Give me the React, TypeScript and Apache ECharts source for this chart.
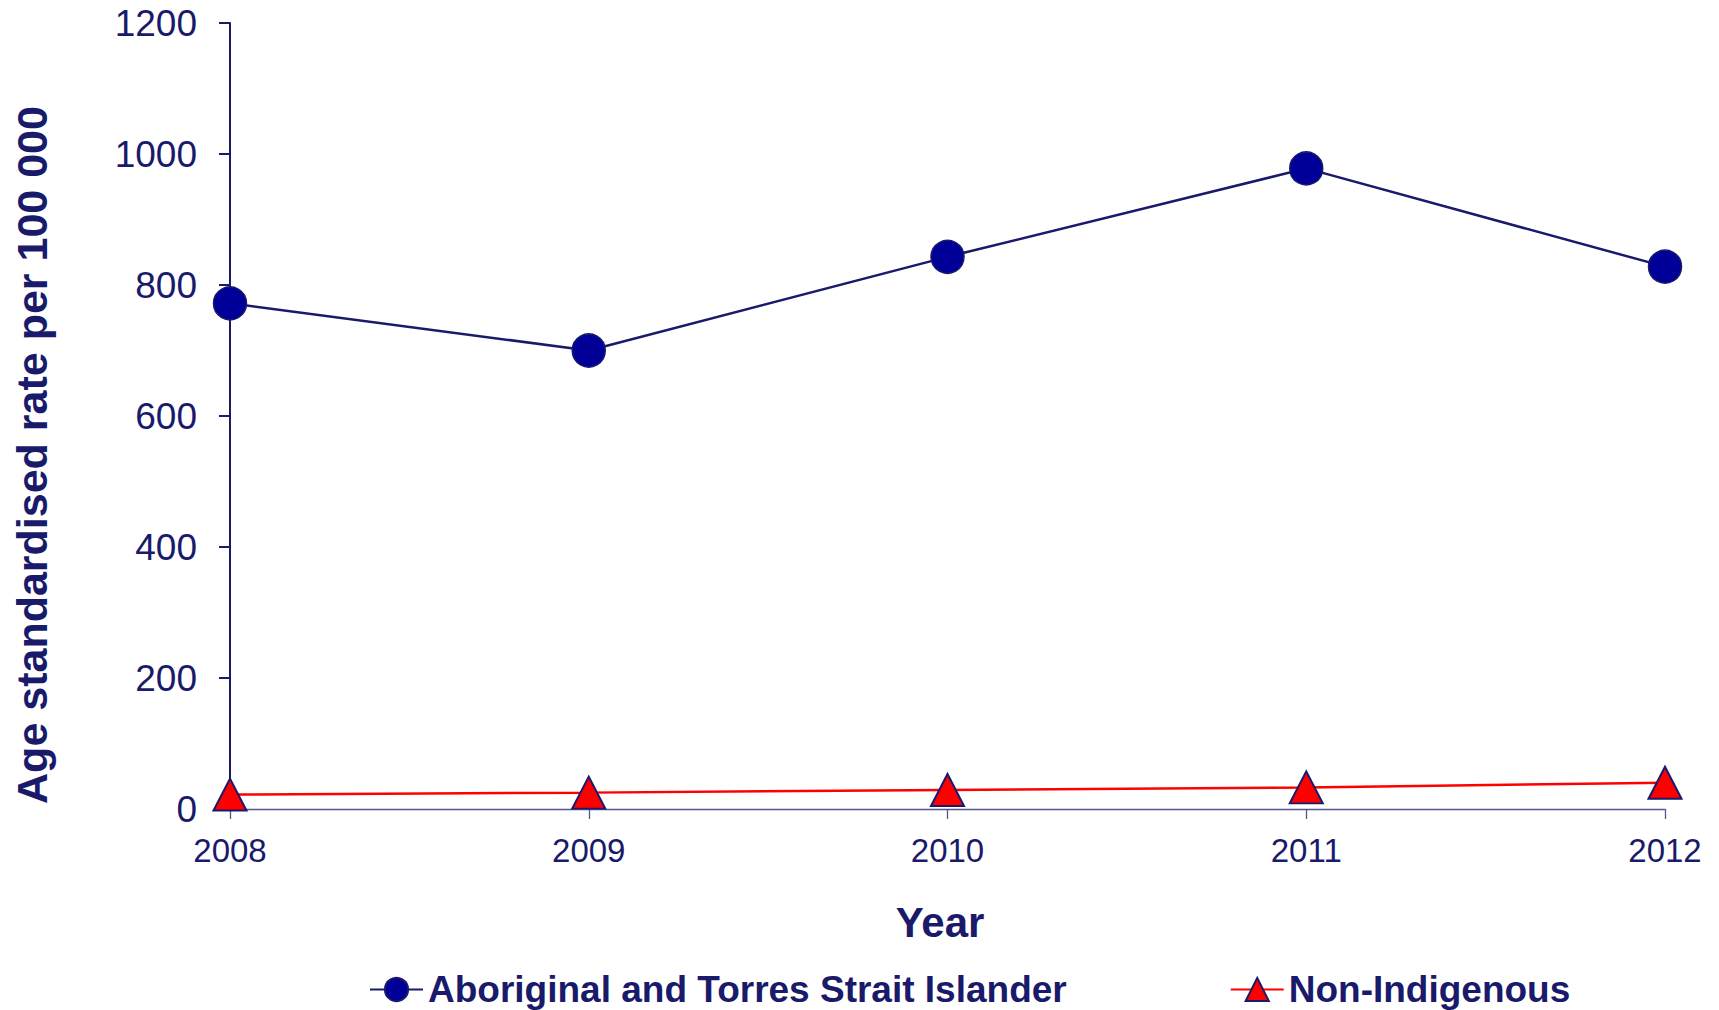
import React, { useEffect, useRef } from "react";
import * as echarts from "echarts";

const years = ["2008", "2009", "2010", "2011", "2012"];
const aboriginal = [772, 700, 843, 978, 828];
const nonIndigenous = [22, 25, 29, 33, 40];
const seriesNames = ["Aboriginal and Torres Strait Islander", "Non-Indigenous"];
const yTitle = "Age standardised rate per 100 000";
const xTitle = "Year";

const NAVY = "#1a1a6b";
const FONT = "'Liberation Sans', Arial, sans-serif";

export default function App() {
  const ref = useRef<HTMLDivElement>(null);
  useEffect(() => {
    document.body.style.margin = "0";
    const chart = echarts.init(ref.current!, null, { renderer: "svg" });
    chart.setOption({
      animation: false,
      backgroundColor: "#ffffff",
      textStyle: { fontFamily: FONT },
      grid: { left: 230, right: 54, top: 23, bottom: 201, containLabel: false },
      xAxis: {
        type: "category",
        data: years,
        boundaryGap: false,
        axisLine: { lineStyle: { color: "#55558f", width: 1.3 } },
        axisTick: { show: true, inside: false, length: 10, alignWithLabel: true, lineStyle: { color: "#55558f", width: 1.3 } },
        axisLabel: { color: NAVY, fontSize: 33, fontFamily: FONT, margin: 25 },
        splitLine: { show: false },
      },
      yAxis: {
        type: "value",
        min: 0,
        max: 1200,
        interval: 200,
        axisLine: { show: true, lineStyle: { color: NAVY, width: 2 } },
        axisTick: { show: true, inside: false, length: 11, lineStyle: { color: NAVY, width: 2 } },
        axisLabel: {
          color: NAVY,
          fontSize: 37,
          fontFamily: FONT,
          margin: 33,
          formatter: (v: number) => String(v),
        },
        splitLine: { show: false },
      },
      legend: {
        left: 369,
        top: 971,
        padding: 0,
        itemWidth: 53,
        itemHeight: 29,
        itemGap: 163,
        textStyle: { color: NAVY, fontSize: 37, fontWeight: "bold", fontFamily: FONT },
        data: seriesNames,
      },
      graphic: [
        {
          type: "text",
          x: 32,
          y: 455,
          rotation: Math.PI / 2,
          style: {
            text: yTitle,
            fill: NAVY,
            font: `bold 43px ${FONT}`,
            align: "center",
            verticalAlign: "middle",
          },
        },
        {
          type: "text",
          x: 940,
          y: 922,
          style: {
            text: xTitle,
            fill: NAVY,
            font: `bold 42px ${FONT}`,
            align: "center",
            verticalAlign: "middle",
          },
        },
      ],
      series: [
        {
          name: seriesNames[0],
          type: "line",
          data: aboriginal,
          symbol: "circle",
          symbolSize: 33,
          lineStyle: { color: NAVY, width: 2.5 },
          itemStyle: { color: "#000099", borderColor: NAVY, borderWidth: 1.5 },
          z: 3,
        },
        {
          name: seriesNames[1],
          type: "line",
          data: nonIndigenous,
          symbol: "triangle",
          symbolSize: [33, 32],
          lineStyle: { color: "#ff0000", width: 2.5 },
          itemStyle: { color: "#ff0000", borderColor: NAVY, borderWidth: 2 },
          z: 3,
        },
      ],
    });
    return () => chart.dispose();
  }, []);
  return <div ref={ref} style={{ width: 1719, height: 1010 }} />;
}
